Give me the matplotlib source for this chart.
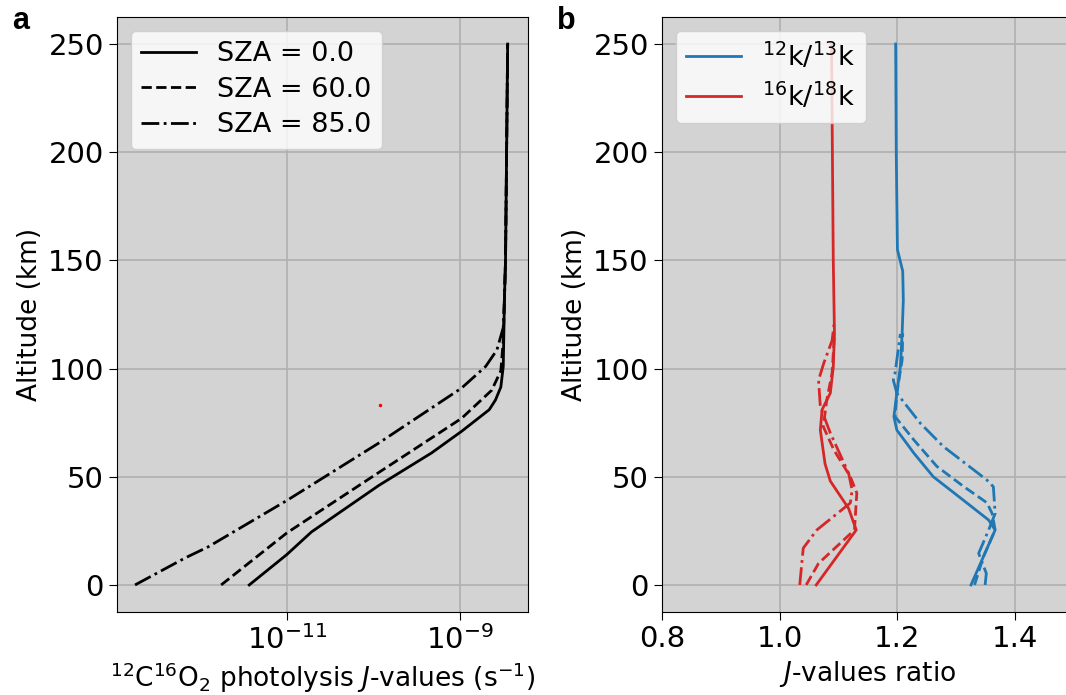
import numpy as np
import matplotlib
matplotlib.use("Agg")
import matplotlib.pyplot as plt

# panel a: 12C16O2 photolysis J-values (s-1) vs altitude (km)
alt_sza0 = [0, 14, 24.5, 46, 61, 71, 81, 85.5, 91.5, 101, 116, 132, 150, 250]
j_sza0 = [3.6e-12, 9.8e-12, 1.9e-11, 1.15e-10, 4.7e-10, 1.05e-9, 2.2e-9, 2.6e-9,
          3.0e-9, 3.2e-9, 3.25e-9, 3.3e-9, 3.4e-9, 3.6e-9]
alt_sza60 = [0, 24, 52, 77, 90, 99, 113, 132, 150, 250]
j_sza60 = [1.7e-12, 9.8e-12, 1.15e-10, 1.05e-9, 2.35e-9, 3.0e-9, 3.2e-9,
           3.3e-9, 3.4e-9, 3.6e-9]
alt_sza85 = [0, 12.5, 17.6, 39, 65.6, 91, 101, 108.6, 119, 132, 150, 250]
j_sza85 = [1.7e-13, 6.5e-13, 1.2e-12, 9.8e-12, 1.15e-10, 1.05e-9, 2.0e-9,
           2.7e-9, 3.2e-9, 3.3e-9, 3.4e-9, 3.6e-9]
sza_labels = ["SZA = 0.0", "SZA = 60.0", "SZA = 85.0"]
odd_point = (1.2e-10, 83.2)

# panel b: J-value ratios, one curve per SZA
alt_c_sza0 = [0, 25.4, 30, 37.9, 50, 60.9, 71.6, 77.8, 88.6, 100.9, 116.3, 131.7, 145, 155, 200, 250]
c_sza0 = [1.325, 1.366, 1.355, 1.318, 1.261, 1.228, 1.199, 1.194, 1.199, 1.205,
          1.208, 1.210, 1.209, 1.200, 1.198, 1.197]
alt_c_sza60 = [0, 13, 25.4, 33, 38, 45.6, 54.8, 67, 77.8, 88.6, 104, 116.3]
c_sza60 = [1.331, 1.346, 1.366, 1.361, 1.352, 1.312, 1.267, 1.228, 1.196, 1.199,
           1.208, 1.209]
alt_c_sza85 = [0, 5.4, 14.6, 25.4, 33, 45.4, 48.5, 64, 74.7, 88.6, 94.7, 98, 116]
c_sza85 = [1.349, 1.351, 1.338, 1.355, 1.366, 1.363, 1.352, 1.278, 1.239, 1.199,
           1.193, 1.196, 1.205]

alt_o_sza0 = [0, 25.4, 35.4, 48, 56, 71.6, 81, 88.7, 100.7, 116, 150, 250]
o_sza0 = [1.062, 1.130, 1.117, 1.086, 1.077, 1.069, 1.072, 1.086, 1.091, 1.093,
          1.091, 1.088]
alt_o_sza60 = [0, 10, 25.4, 42.5, 50, 62.4, 73.2, 85.5, 98, 116]
o_sza60 = [1.045, 1.066, 1.127, 1.131, 1.120, 1.092, 1.074, 1.080, 1.089, 1.093]
alt_o_sza85 = [0, 17, 25.4, 37.9, 43.9, 51.7, 70.2, 82.4, 94.7, 102.6, 113, 122]
o_sza85 = [1.034, 1.040, 1.063, 1.120, 1.123, 1.117, 1.086, 1.069, 1.066, 1.075,
           1.089, 1.093]
ratio_labels = [r"$^{12}$k/$^{13}$k", r"$^{16}$k/$^{18}$k"]

bg = "#d3d3d3"
blue = "#1f77b4"
red = "#d62728"
styles = ["-", "--", "-."]

fig = plt.figure(figsize=(10.66, 6.95), dpi=100)
ax1 = fig.add_axes([117 / 1066, 83 / 695, 411 / 1066, 595 / 695])
ax2 = fig.add_axes([662 / 1066, 83 / 695, 412 / 1066, 595 / 695])

for ax in (ax1, ax2):
    ax.set_facecolor(bg)
    ax.grid(True, color="#b0b0b0", linewidth=1.2)
    ax.set_axisbelow(True)
    ax.tick_params(labelsize=21, length=6)
    ax.set_yticks([0, 50, 100, 150, 200, 250])
    ax.set_ylabel("Altitude (km)", fontsize=19)

# panel a
for alt, j, ls, lab in zip([alt_sza0, alt_sza60, alt_sza85],
                           [j_sza0, j_sza60, j_sza85], styles, sza_labels):
    ax1.plot(j, alt, color="black", linestyle=ls, linewidth=2, label=lab)
ax1.plot(odd_point[0], odd_point[1], "o", color="red", markersize=1.5)
ax1.set_xscale("log")
ax1.set_xlim(1.05e-13, 6.2e-9)
ax1.set_ylim(-12.5, 262.5)
ax1.set_xticks([1e-11, 1e-9])
ax1.xaxis.set_minor_locator(matplotlib.ticker.NullLocator())
ax1.set_xlabel(r"$^{12}$C$^{16}$O$_2$ photolysis $J$-values (s$^{-1}$)", fontsize=19)
ax1.legend(loc="upper left", fontsize=19.5, labelspacing=0.35)

# panel b
for alt, v, ls in zip([alt_c_sza0, alt_c_sza60, alt_c_sza85],
                      [c_sza0, c_sza60, c_sza85], styles):
    ax2.plot(v, alt, color=blue, linestyle=ls, linewidth=2,
             label=ratio_labels[0] if ls == "-" else None)
for alt, v, ls in zip([alt_o_sza0, alt_o_sza60, alt_o_sza85],
                      [o_sza0, o_sza60, o_sza85], styles):
    ax2.plot(v, alt, color=red, linestyle=ls, linewidth=2,
             label=ratio_labels[1] if ls == "-" else None)
ax2.set_xlim(0.8, 1.5)
ax2.set_ylim(-12.5, 262.5)
ax2.set_xticks([0.8, 1.0, 1.2, 1.4])
ax2.set_xlabel(r"$J$-values ratio", fontsize=19)
ax2.legend(loc="upper left", fontsize=19.5, labelspacing=0.35)

fig.text(12 / 1066, 1 - 21 / 695, "a", fontsize=22, fontweight="bold",
         family="Liberation Sans", va="center")
fig.text(557 / 1066, 1 - 21 / 695, "b", fontsize=22, fontweight="bold",
         family="Liberation Sans", va="center")

fig.savefig("out.png", dpi=100)
